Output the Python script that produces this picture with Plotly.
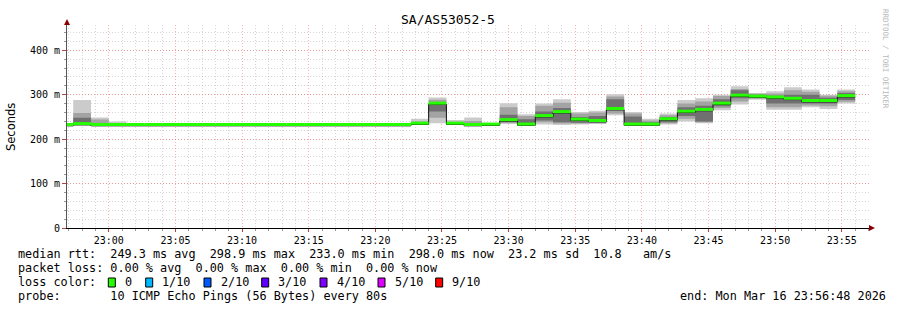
import pandas as pd
import plotly.graph_objects as go

# ---------------- data ----------------
title = "SA/AS53052-5"
first_bin_end = "2026-03-16 22:57:20"
step_seconds = 80

median = [233, 235, 233, 233, 233, 233, 233, 233, 233, 233, 233, 233, 233, 233, 233,
          233, 233, 233, 233, 233, 236, 281, 236, 233, 234, 244, 234, 253, 262, 245,
          242, 269, 234, 234, 246, 263, 267, 281, 299, 297, 295, 292, 287, 287, 298]
outer_lo = [233, 233, 232, 232, 233, 233, 233, 233, 233, 233, 233, 233, 233, 233, 233,
            233, 233, 233, 233, 232, 233, 236, 233, 232, 233, 234, 233, 233, 232, 233,
            234, 254, 233, 233, 233, 240, 236, 265, 278, 289, 266, 266, 272, 268, 280]
outer_hi = [233, 288, 249, 240, 233, 233, 233, 233, 233, 233, 233, 236, 233, 233, 233,
            236, 233, 233, 233, 234, 246, 294, 243, 249, 235, 281, 256, 280, 290, 261,
            264, 301, 261, 246, 258, 288, 292, 300, 319, 304, 308, 317, 312, 300, 312]
mid_lo = [233, 234, 233, 233, 233, 233, 233, 233, 233, 233, 233, 233, 233, 233, 233,
          233, 233, 233, 233, 233, 234, 248, 234, 233, 233, 237, 234, 238, 235, 235,
          236, 258, 233, 233, 236, 246, 238, 270, 285, 291, 272, 272, 276, 274, 284]
mid_hi = [233, 259, 244, 236, 233, 233, 233, 233, 233, 233, 233, 233, 233, 233, 233,
          233, 233, 233, 233, 233, 240, 289, 239, 241, 234, 272, 252, 275, 282, 258,
          260, 296, 258, 242, 254, 280, 285, 297, 313, 302, 303, 310, 307, 298, 308]
inner_lo = [233, 235, 233, 233, 233, 233, 233, 233, 233, 233, 233, 233, 233, 233, 233,
            233, 233, 233, 233, 233, 235, 262, 235, 233, 233, 238, 236, 242, 238, 237,
            238, 265, 234, 233, 238, 252, 240, 274, 292, 293, 280, 280, 280, 280, 288]
inner_hi = [233, 248, 236, 234, 233, 233, 233, 233, 233, 233, 233, 233, 233, 233, 233,
            233, 233, 233, 233, 233, 237, 279, 237, 235, 234, 255, 245, 262, 270, 250,
            252, 290, 251, 238, 250, 272, 275, 290, 310, 300, 298, 300, 300, 293, 304]

y_tick_vals = [0, 100, 200, 300, 400]
y_tick_text = ["0", "100 m", "200 m", "300 m", "400 m"]

legend_rows = [
    "median rtt:  249.3 ms avg  298.9 ms max  233.0 ms min  298.0 ms now  23.2 ms sd  10.8   am/s",
    "packet loss: 0.00 % avg  0.00 % max  0.00 % min  0.00 % now",
    "loss color:",
    "probe:       10 ICMP Echo Pings (56 Bytes) every 80s",
]
loss_labels = ["0", "1/10", "2/10", "3/10", "4/10", "5/10", "9/10"]
loss_colors = ["#26ff00", "#00b8ff", "#0059ff", "#5e00ff", "#7e00ff", "#dd00ff", "#ff0000"]
end_text = "end: Mon Mar 16 23:56:48 2026"
watermark = "RRDTOOL / TOBI OETIKER"

# ---------------- geometry ----------------
W, H = 897, 310
L, R, T, B = 67, 869, 25, 228


def px(x):
    return (x - L) / (R - L)


def py(y):
    return (B - y) / (B - T)


ends = pd.date_range(first_bin_end, periods=len(median), freq=f"{step_seconds}s")
starts = ends - pd.Timedelta(seconds=step_seconds)
xs = list(starts) + [ends[-1]]


def stepy(v):
    return list(v) + [v[-1]]


fig = go.Figure()

bands = [
    (outer_lo, outer_hi, "#cbcbcb"),
    (mid_lo, mid_hi, "#a3a3a3"),
    (inner_lo, inner_hi, "#707070"),
]
for lo, hi, col in bands:
    fig.add_trace(go.Scatter(x=xs, y=stepy(lo), mode="lines", line=dict(width=0, shape="hv"),
                             hoverinfo="skip"))
    fig.add_trace(go.Scatter(x=xs, y=stepy(hi), mode="lines", line=dict(width=0, shape="hv"),
                             fill="tonexty", fillcolor=col, hoverinfo="skip"))

# dark median step line
fig.add_trace(go.Scatter(x=xs, y=[v - 3 for v in stepy(median)], mode="lines",
                         line=dict(width=1, shape="hv", color="#111111"), hoverinfo="skip"))

# loss-coloured median (horizontal segments)
gx, gy = [], []
for s, e, v in zip(starts, ends, median):
    gx += [s, e, None]
    gy += [v, v, None]
fig.add_trace(go.Scatter(x=gx, y=gy, mode="lines", line=dict(width=3, color=loss_colors[0]),
                         hoverinfo="skip"))

mono = "DejaVu Sans Mono"
dotted = "1px,2px"

fig.update_layout(
    width=W, height=H, autosize=False,
    margin=dict(l=L, r=W - R, t=T, b=H - B, pad=0),
    paper_bgcolor="white", plot_bgcolor="white", showlegend=False,
    xaxis=dict(
        type="date",
        range=["2026-03-16 22:56:51.8", "2026-03-16 23:57:02.5"],
        tick0="2026-03-16 23:00:00", dtick=300000, tickformat="%H:%M",
        showgrid=True, gridcolor="rgba(255,80,80,0.45)", griddash=dotted, gridwidth=1,
        minor=dict(dtick=60000, tick0="2026-03-16 23:00:00", showgrid=True,
                   gridcolor="rgba(120,120,120,0.3)", griddash=dotted,
                   ticks="outside", ticklen=2, tickcolor="#999"),
        ticks="outside", ticklen=3, tickcolor="#c04040",
        showline=True, linecolor="black", linewidth=1, zeroline=False,
        tickfont=dict(family=mono, size=10, color="black"),
    ),
    yaxis=dict(
        range=[0, 457],
        tickvals=y_tick_vals, ticktext=y_tick_text,
        showgrid=True, gridcolor="rgba(255,80,80,0.45)", griddash=dotted, gridwidth=1,
        minor=dict(dtick=20, tick0=0, showgrid=True, gridcolor="rgba(120,120,120,0.3)",
                   griddash=dotted, ticks="outside", ticklen=2, tickcolor="#999"),
        ticks="outside", ticklen=4, tickcolor="#c04040",
        showline=True, linecolor="#555", linewidth=1, zeroline=False,
        tickfont=dict(family=mono, size=10, color="black"),
    ),
)

# arrows
fig.add_shape(type="path", xref="paper", yref="paper",
              path=f"M {px(64)} {py(25)} L {px(70)} {py(25)} L {px(67)} {py(19)} Z",
              fillcolor="#8b0000", line=dict(width=0))
fig.add_shape(type="path", xref="paper", yref="paper",
              path=f"M {px(869)} {py(225)} L {px(869)} {py(231)} L {px(875)} {py(228)} Z",
              fillcolor="#8b0000", line=dict(width=0))


def nb(s):
    return s.replace(" ", "\u00a0")


def text(x, y, s, size=11.8, anchor="left", family=mono, color="black", angle=0):
    fig.add_annotation(x=px(x), y=py(y), xref="paper", yref="paper", text=nb(s),
                       showarrow=False, xanchor=anchor, yanchor="middle",
                       font=dict(family=family, size=size, color=color), textangle=angle)


text(448, 19, title, size=13, anchor="center")
text(11, 127, "Seconds", size=11.5, anchor="center", family="DejaVu Sans", angle=-90)
text(886, 59, watermark, size=7.5, anchor="center", color="#b8b8b8", angle=90)

row_y = [254.3, 268.3, 282.3, 296.3]
for s, y in zip(legend_rows, row_y):
    text(16, y, s)
text(678, row_y[3], end_text)

sq_x = [108.3, 145.7, 204.0, 261.7, 320.0, 378.0, 435.7]
for x0, lab, col in zip(sq_x, loss_labels, loss_colors):
    fig.add_shape(type="rect", xref="paper", yref="paper",
                  x0=px(x0), x1=px(x0 + 7), y0=py(278), y1=py(287),
                  fillcolor=col, line=dict(color="black", width=1))
    text(x0 + 14.5, row_y[2], lab)

fig.write_html("out.html")
